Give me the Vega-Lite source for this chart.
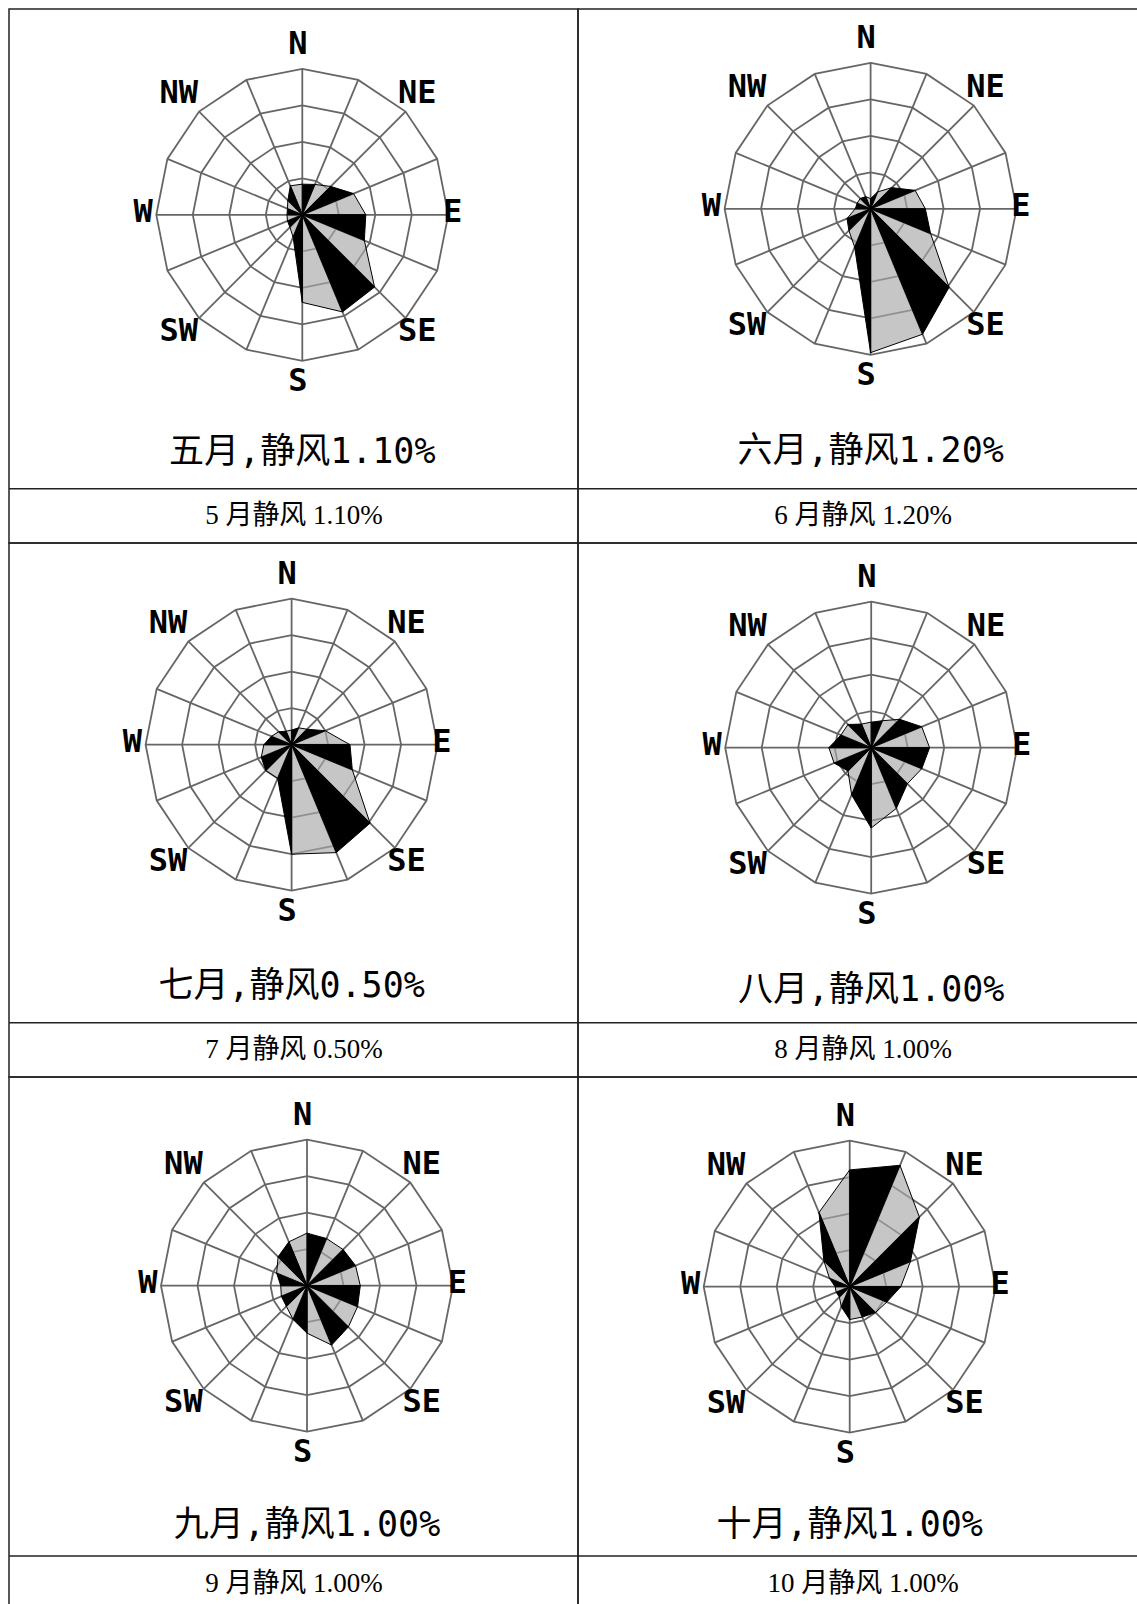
{
"$schema": "https://vega.github.io/schema/vega-lite/v6.json",
"background": "white",
"padding": {"left": 7, "top": 8, "right": 0, "bottom": 0},
"columns": 2,
"spacing": 0,
"bounds": "flush",
"resolve": {"scale": {"x": "independent", "y": "independent"}},
"config": {"view": {"stroke": "#222222", "strokeWidth": 1.5}},
"datasets": {
"rose": [
{"m":5,"d":0,"v":4.2},{"m":5,"d":1,"v":4.5},{"m":5,"d":2,"v":5.5},{"m":5,"d":3,"v":7.6},{"m":5,"d":4,"v":8.7},{"m":5,"d":5,"v":9.2},{"m":5,"d":6,"v":14.0},{"m":5,"d":7,"v":14.4},{"m":5,"d":8,"v":12.0},{"m":5,"d":9,"v":3.3},{"m":5,"d":10,"v":2.4},{"m":5,"d":11,"v":2.2},{"m":5,"d":12,"v":2.1},{"m":5,"d":13,"v":2.2},{"m":5,"d":14,"v":2.8},{"m":5,"d":15,"v":4.3},
{"m":6,"d":0,"v":1.4},{"m":6,"d":1,"v":2.5},{"m":6,"d":2,"v":4.1},{"m":6,"d":3,"v":6.6},{"m":6,"d":4,"v":7.5},{"m":6,"d":5,"v":8.9},{"m":6,"d":6,"v":15.2},{"m":6,"d":7,"v":18.6},{"m":6,"d":8,"v":19.7},{"m":6,"d":9,"v":5.7},{"m":6,"d":10,"v":4.2},{"m":6,"d":11,"v":3.5},{"m":6,"d":12,"v":2.1},{"m":6,"d":13,"v":2.0},{"m":6,"d":14,"v":2.0},{"m":6,"d":15,"v":1.8},
{"m":7,"d":0,"v":2.0},{"m":7,"d":1,"v":2.5},{"m":7,"d":2,"v":3.0},{"m":7,"d":3,"v":5.0},{"m":7,"d":4,"v":8.0},{"m":7,"d":5,"v":9.0},{"m":7,"d":6,"v":15.2},{"m":7,"d":7,"v":16.0},{"m":7,"d":8,"v":15.0},{"m":7,"d":9,"v":5.0},{"m":7,"d":10,"v":5.0},{"m":7,"d":11,"v":4.5},{"m":7,"d":12,"v":3.8},{"m":7,"d":13,"v":3.0},{"m":7,"d":14,"v":2.5},{"m":7,"d":15,"v":2.0},
{"m":8,"d":0,"v":3.5},{"m":8,"d":1,"v":4.0},{"m":8,"d":2,"v":5.5},{"m":8,"d":3,"v":7.5},{"m":8,"d":4,"v":8.0},{"m":8,"d":5,"v":7.5},{"m":8,"d":6,"v":7.0},{"m":8,"d":7,"v":9.0},{"m":8,"d":8,"v":11.0},{"m":8,"d":9,"v":7.0},{"m":8,"d":10,"v":4.5},{"m":8,"d":11,"v":5.5},{"m":8,"d":12,"v":5.8},{"m":8,"d":13,"v":4.5},{"m":8,"d":14,"v":4.5},{"m":8,"d":15,"v":3.5},
{"m":9,"d":0,"v":7.2},{"m":9,"d":1,"v":7.0},{"m":9,"d":2,"v":7.0},{"m":9,"d":3,"v":7.2},{"m":9,"d":4,"v":7.3},{"m":9,"d":5,"v":7.5},{"m":9,"d":6,"v":8.0},{"m":9,"d":7,"v":8.8},{"m":9,"d":8,"v":6.5},{"m":9,"d":9,"v":5.0},{"m":9,"d":10,"v":4.0},{"m":9,"d":11,"v":3.8},{"m":9,"d":12,"v":3.6},{"m":9,"d":13,"v":4.5},{"m":9,"d":14,"v":5.6},{"m":9,"d":15,"v":6.5},
{"m":10,"d":0,"v":16.0},{"m":10,"d":1,"v":18.0},{"m":10,"d":2,"v":13.5},{"m":10,"d":3,"v":9.0},{"m":10,"d":4,"v":7.0},{"m":10,"d":5,"v":5.5},{"m":10,"d":6,"v":5.0},{"m":10,"d":7,"v":4.5},{"m":10,"d":8,"v":4.5},{"m":10,"d":9,"v":3.0},{"m":10,"d":10,"v":2.0},{"m":10,"d":11,"v":2.0},{"m":10,"d":12,"v":2.0},{"m":10,"d":13,"v":3.0},{"m":10,"d":14,"v":5.0},{"m":10,"d":15,"v":11.0}
],
"dirs": [
{"d":0,"g":[5,10,15,20]},{"d":1,"g":[5,10,15,20]},{"d":2,"g":[5,10,15,20]},{"d":3,"g":[5,10,15,20]},{"d":4,"g":[5,10,15,20]},{"d":5,"g":[5,10,15,20]},{"d":6,"g":[5,10,15,20]},{"d":7,"g":[5,10,15,20]},{"d":8,"g":[5,10,15,20]},{"d":9,"g":[5,10,15,20]},{"d":10,"g":[5,10,15,20]},{"d":11,"g":[5,10,15,20]},{"d":12,"g":[5,10,15,20]},{"d":13,"g":[5,10,15,20]},{"d":14,"g":[5,10,15,20]},{"d":15,"g":[5,10,15,20]}
],
"labs": [
{"d":0,"t":"N"},{"d":2,"t":"NE"},{"d":4,"t":"E"},{"d":6,"t":"SE"},{"d":8,"t":"S"},{"d":10,"t":"SW"},{"d":12,"t":"W"},{"d":14,"t":"NW"}
],
"months": [
{"m":5,"title":"五月,静风1.10%","cap":"5 月静风 1.10%"},
{"m":6,"title":"六月,静风1.20%","cap":"6 月静风 1.20%"},
{"m":7,"title":"七月,静风0.50%","cap":"7 月静风 0.50%"},
{"m":8,"title":"八月,静风1.00%","cap":"8 月静风 1.00%"},
{"m":9,"title":"九月,静风1.00%","cap":"9 月静风 1.00%"},
{"m":10,"title":"十月,静风1.00%","cap":"10 月静风 1.00%"}
]
},
"concat": [
{
"width": 569, "height": 534,
"layer": [
{"data": {"name": "dirs"}, "transform": [{"flatten": ["g"]}, {"calculate": "datum.g * sin(datum.d * PI / 8)", "as": "x"}, {"calculate": "datum.g * cos(datum.d * PI / 8)", "as": "y"}],
 "mark": {"type": "line", "interpolate": "linear-closed", "stroke": "#666666", "strokeWidth": 1.8},
 "encoding": {"x": {"field": "x", "type": "quantitative", "scale": {"domain": [-40.178, 37.767], "nice": false, "zero": false}, "axis": null}, "y": {"field": "y", "type": "quantitative", "scale": {"domain": [-44.959, 28.192], "nice": false, "zero": false}, "axis": null}, "detail": {"field": "g", "type": "nominal"}, "order": {"field": "d", "type": "quantitative"}}},
{"data": {"name": "dirs"}, "transform": [{"calculate": "20 * sin(datum.d * PI / 8)", "as": "x"}, {"calculate": "20 * cos(datum.d * PI / 8)", "as": "y"}],
 "mark": {"type": "rule", "stroke": "#666666", "strokeWidth": 1.8},
 "encoding": {"x": {"field": "x", "type": "quantitative", "scale": {"domain": [-40.178, 37.767], "nice": false, "zero": false}, "axis": null}, "y": {"field": "y", "type": "quantitative", "scale": {"domain": [-44.959, 28.192], "nice": false, "zero": false}, "axis": null}, "x2": {"datum": 0}, "y2": {"datum": 0}}},
{"data": {"name": "rose"}, "transform": [{"filter": "datum.m == 5"}, {"calculate": "datum.d", "as": "s0"}, {"calculate": "datum.d", "as": "s1"}, {"calculate": "(datum.d + 15) % 16", "as": "s2"}, {"fold": ["s0", "s1", "s2"], "as": ["k", "s"]}, {"calculate": "datum.k == 's0' ? 0 : datum.v", "as": "r"}, {"calculate": "datum.r * sin(datum.d * PI / 8)", "as": "x"}, {"calculate": "datum.r * cos(datum.d * PI / 8)", "as": "y"}, {"calculate": "datum.s % 2", "as": "c"}],
 "mark": {"type": "line", "interpolate": "linear-closed", "stroke": "#000000", "strokeWidth": 1},
 "encoding": {"x": {"field": "x", "type": "quantitative", "scale": {"domain": [-40.178, 37.767], "nice": false, "zero": false}, "axis": null}, "y": {"field": "y", "type": "quantitative", "scale": {"domain": [-44.959, 28.192], "nice": false, "zero": false}, "axis": null}, "detail": {"field": "s", "type": "nominal"}, "order": {"field": "k"}, "fill": {"field": "c", "type": "nominal", "scale": {"domain": [0, 1], "range": ["#000000", "#a8a8a8"]}, "legend": null}, "fillOpacity": {"field": "c", "type": "ordinal", "scale": {"domain": [0, 1], "range": [1, 0.65]}, "legend": null}}},
{"data": {"name": "labs"}, "transform": [{"calculate": "datum.d % 8 == 4 ? 21.2 : 23.1", "as": "R"}, {"calculate": "datum.R * sin(datum.d * PI / 8) - 0.6", "as": "x"}, {"calculate": "datum.R * cos(datum.d * PI / 8) + 0.35", "as": "y"}],
 "mark": {"type": "text", "font": "DejaVu Sans Mono", "fontWeight": "bold", "fontSize": 32, "baseline": "middle", "align": "center"},
 "encoding": {"x": {"field": "x", "type": "quantitative", "scale": {"domain": [-40.178, 37.767], "nice": false, "zero": false}, "axis": null}, "y": {"field": "y", "type": "quantitative", "scale": {"domain": [-44.959, 28.192], "nice": false, "zero": false}, "axis": null}, "text": {"field": "t"}}},
{"data": {"name": "months"}, "transform": [{"filter": "datum.m == 5"}],
 "mark": {"type": "text", "font": "DejaVu Sans Mono, Noto Sans CJK SC", "fontSize": 35, "baseline": "middle", "align": "center"},
 "encoding": {"x": {"datum": 0, "type": "quantitative", "scale": {"domain": [-40.178, 37.767], "nice": false, "zero": false}, "axis": null}, "y": {"datum": -32.493, "type": "quantitative", "scale": {"domain": [-44.959, 28.192], "nice": false, "zero": false}, "axis": null}, "text": {"field": "title"}}},
{"data": {"name": "months"}, "transform": [{"filter": "datum.m == 5"}],
 "mark": {"type": "text", "font": "Liberation Serif, Noto Sans CJK SC", "fontSize": 27, "baseline": "middle", "align": "center"},
 "encoding": {"x": {"datum": -1.137, "type": "quantitative", "scale": {"domain": [-40.178, 37.767], "nice": false, "zero": false}, "axis": null}, "y": {"datum": -41.233, "type": "quantitative", "scale": {"domain": [-44.959, 28.192], "nice": false, "zero": false}, "axis": null}, "text": {"field": "cap"}}},
{"data": {"name": "months"}, "transform": [{"filter": "datum.m == 5"}],
 "mark": {"type": "rule", "stroke": "#222222", "strokeWidth": 1.5},
 "encoding": {"y": {"datum": -37.534, "type": "quantitative", "scale": {"domain": [-44.959, 28.192], "nice": false, "zero": false}, "axis": null}}}
]
},
{
"width": 561, "height": 534,
"layer": [
{"data": {"name": "dirs"}, "transform": [{"flatten": ["g"]}, {"calculate": "datum.g * sin(datum.d * PI / 8)", "as": "x"}, {"calculate": "datum.g * cos(datum.d * PI / 8)", "as": "y"}],
 "mark": {"type": "line", "interpolate": "linear-closed", "stroke": "#666666", "strokeWidth": 1.8},
 "encoding": {"x": {"field": "x", "type": "quantitative", "scale": {"domain": [-40.082, 36.767], "nice": false, "zero": false}, "axis": null}, "y": {"field": "y", "type": "quantitative", "scale": {"domain": [-45.781, 27.370], "nice": false, "zero": false}, "axis": null}, "detail": {"field": "g", "type": "nominal"}, "order": {"field": "d", "type": "quantitative"}}},
{"data": {"name": "dirs"}, "transform": [{"calculate": "20 * sin(datum.d * PI / 8)", "as": "x"}, {"calculate": "20 * cos(datum.d * PI / 8)", "as": "y"}],
 "mark": {"type": "rule", "stroke": "#666666", "strokeWidth": 1.8},
 "encoding": {"x": {"field": "x", "type": "quantitative", "scale": {"domain": [-40.082, 36.767], "nice": false, "zero": false}, "axis": null}, "y": {"field": "y", "type": "quantitative", "scale": {"domain": [-45.781, 27.370], "nice": false, "zero": false}, "axis": null}, "x2": {"datum": 0}, "y2": {"datum": 0}}},
{"data": {"name": "rose"}, "transform": [{"filter": "datum.m == 6"}, {"calculate": "datum.d", "as": "s0"}, {"calculate": "datum.d", "as": "s1"}, {"calculate": "(datum.d + 15) % 16", "as": "s2"}, {"fold": ["s0", "s1", "s2"], "as": ["k", "s"]}, {"calculate": "datum.k == 's0' ? 0 : datum.v", "as": "r"}, {"calculate": "datum.r * sin(datum.d * PI / 8)", "as": "x"}, {"calculate": "datum.r * cos(datum.d * PI / 8)", "as": "y"}, {"calculate": "datum.s % 2", "as": "c"}],
 "mark": {"type": "line", "interpolate": "linear-closed", "stroke": "#000000", "strokeWidth": 1},
 "encoding": {"x": {"field": "x", "type": "quantitative", "scale": {"domain": [-40.082, 36.767], "nice": false, "zero": false}, "axis": null}, "y": {"field": "y", "type": "quantitative", "scale": {"domain": [-45.781, 27.370], "nice": false, "zero": false}, "axis": null}, "detail": {"field": "s", "type": "nominal"}, "order": {"field": "k"}, "fill": {"field": "c", "type": "nominal", "scale": {"domain": [0, 1], "range": ["#000000", "#a8a8a8"]}, "legend": null}, "fillOpacity": {"field": "c", "type": "ordinal", "scale": {"domain": [0, 1], "range": [1, 0.65]}, "legend": null}}},
{"data": {"name": "labs"}, "transform": [{"calculate": "datum.d % 8 == 4 ? 21.2 : 23.1", "as": "R"}, {"calculate": "datum.R * sin(datum.d * PI / 8) - 0.6", "as": "x"}, {"calculate": "datum.R * cos(datum.d * PI / 8) + 0.35", "as": "y"}],
 "mark": {"type": "text", "font": "DejaVu Sans Mono", "fontWeight": "bold", "fontSize": 32, "baseline": "middle", "align": "center"},
 "encoding": {"x": {"field": "x", "type": "quantitative", "scale": {"domain": [-40.082, 36.767], "nice": false, "zero": false}, "axis": null}, "y": {"field": "y", "type": "quantitative", "scale": {"domain": [-45.781, 27.370], "nice": false, "zero": false}, "axis": null}, "text": {"field": "t"}}},
{"data": {"name": "months"}, "transform": [{"filter": "datum.m == 6"}],
 "mark": {"type": "text", "font": "DejaVu Sans Mono, Noto Sans CJK SC", "fontSize": 35, "baseline": "middle", "align": "center"},
 "encoding": {"x": {"datum": 0, "type": "quantitative", "scale": {"domain": [-40.082, 36.767], "nice": false, "zero": false}, "axis": null}, "y": {"datum": -33.110, "type": "quantitative", "scale": {"domain": [-45.781, 27.370], "nice": false, "zero": false}, "axis": null}, "text": {"field": "title"}}},
{"data": {"name": "months"}, "transform": [{"filter": "datum.m == 6"}],
 "mark": {"type": "text", "font": "Liberation Serif, Noto Sans CJK SC", "fontSize": 27, "baseline": "middle", "align": "center"},
 "encoding": {"x": {"datum": -1.041, "type": "quantitative", "scale": {"domain": [-40.082, 36.767], "nice": false, "zero": false}, "axis": null}, "y": {"datum": -42.055, "type": "quantitative", "scale": {"domain": [-45.781, 27.370], "nice": false, "zero": false}, "axis": null}, "text": {"field": "cap"}}},
{"data": {"name": "months"}, "transform": [{"filter": "datum.m == 6"}],
 "mark": {"type": "rule", "stroke": "#222222", "strokeWidth": 1.5},
 "encoding": {"y": {"datum": -38.356, "type": "quantitative", "scale": {"domain": [-45.781, 27.370], "nice": false, "zero": false}, "axis": null}}}
]
},
{
"width": 569, "height": 534,
"layer": [
{"data": {"name": "dirs"}, "transform": [{"flatten": ["g"]}, {"calculate": "datum.g * sin(datum.d * PI / 8)", "as": "x"}, {"calculate": "datum.g * cos(datum.d * PI / 8)", "as": "y"}],
 "mark": {"type": "line", "interpolate": "linear-closed", "stroke": "#666666", "strokeWidth": 1.8},
 "encoding": {"x": {"field": "x", "type": "quantitative", "scale": {"domain": [-38.712, 39.233], "nice": false, "zero": false}, "axis": null}, "y": {"field": "y", "type": "quantitative", "scale": {"domain": [-45.521, 27.630], "nice": false, "zero": false}, "axis": null}, "detail": {"field": "g", "type": "nominal"}, "order": {"field": "d", "type": "quantitative"}}},
{"data": {"name": "dirs"}, "transform": [{"calculate": "20 * sin(datum.d * PI / 8)", "as": "x"}, {"calculate": "20 * cos(datum.d * PI / 8)", "as": "y"}],
 "mark": {"type": "rule", "stroke": "#666666", "strokeWidth": 1.8},
 "encoding": {"x": {"field": "x", "type": "quantitative", "scale": {"domain": [-38.712, 39.233], "nice": false, "zero": false}, "axis": null}, "y": {"field": "y", "type": "quantitative", "scale": {"domain": [-45.521, 27.630], "nice": false, "zero": false}, "axis": null}, "x2": {"datum": 0}, "y2": {"datum": 0}}},
{"data": {"name": "rose"}, "transform": [{"filter": "datum.m == 7"}, {"calculate": "datum.d", "as": "s0"}, {"calculate": "datum.d", "as": "s1"}, {"calculate": "(datum.d + 15) % 16", "as": "s2"}, {"fold": ["s0", "s1", "s2"], "as": ["k", "s"]}, {"calculate": "datum.k == 's0' ? 0 : datum.v", "as": "r"}, {"calculate": "datum.r * sin(datum.d * PI / 8)", "as": "x"}, {"calculate": "datum.r * cos(datum.d * PI / 8)", "as": "y"}, {"calculate": "datum.s % 2", "as": "c"}],
 "mark": {"type": "line", "interpolate": "linear-closed", "stroke": "#000000", "strokeWidth": 1},
 "encoding": {"x": {"field": "x", "type": "quantitative", "scale": {"domain": [-38.712, 39.233], "nice": false, "zero": false}, "axis": null}, "y": {"field": "y", "type": "quantitative", "scale": {"domain": [-45.521, 27.630], "nice": false, "zero": false}, "axis": null}, "detail": {"field": "s", "type": "nominal"}, "order": {"field": "k"}, "fill": {"field": "c", "type": "nominal", "scale": {"domain": [0, 1], "range": ["#000000", "#a8a8a8"]}, "legend": null}, "fillOpacity": {"field": "c", "type": "ordinal", "scale": {"domain": [0, 1], "range": [1, 0.65]}, "legend": null}}},
{"data": {"name": "labs"}, "transform": [{"calculate": "datum.d % 8 == 4 ? 21.2 : 23.1", "as": "R"}, {"calculate": "datum.R * sin(datum.d * PI / 8) - 0.6", "as": "x"}, {"calculate": "datum.R * cos(datum.d * PI / 8) + 0.35", "as": "y"}],
 "mark": {"type": "text", "font": "DejaVu Sans Mono", "fontWeight": "bold", "fontSize": 32, "baseline": "middle", "align": "center"},
 "encoding": {"x": {"field": "x", "type": "quantitative", "scale": {"domain": [-38.712, 39.233], "nice": false, "zero": false}, "axis": null}, "y": {"field": "y", "type": "quantitative", "scale": {"domain": [-45.521, 27.630], "nice": false, "zero": false}, "axis": null}, "text": {"field": "t"}}},
{"data": {"name": "months"}, "transform": [{"filter": "datum.m == 7"}],
 "mark": {"type": "text", "font": "DejaVu Sans Mono, Noto Sans CJK SC", "fontSize": 35, "baseline": "middle", "align": "center"},
 "encoding": {"x": {"datum": 0, "type": "quantitative", "scale": {"domain": [-38.712, 39.233], "nice": false, "zero": false}, "axis": null}, "y": {"datum": -33.096, "type": "quantitative", "scale": {"domain": [-45.521, 27.630], "nice": false, "zero": false}, "axis": null}, "text": {"field": "title"}}},
{"data": {"name": "months"}, "transform": [{"filter": "datum.m == 7"}],
 "mark": {"type": "text", "font": "Liberation Serif, Noto Sans CJK SC", "fontSize": 27, "baseline": "middle", "align": "center"},
 "encoding": {"x": {"datum": 0.329, "type": "quantitative", "scale": {"domain": [-38.712, 39.233], "nice": false, "zero": false}, "axis": null}, "y": {"datum": -41.795, "type": "quantitative", "scale": {"domain": [-45.521, 27.630], "nice": false, "zero": false}, "axis": null}, "text": {"field": "cap"}}},
{"data": {"name": "months"}, "transform": [{"filter": "datum.m == 7"}],
 "mark": {"type": "rule", "stroke": "#222222", "strokeWidth": 1.5},
 "encoding": {"y": {"datum": -38.096, "type": "quantitative", "scale": {"domain": [-45.521, 27.630], "nice": false, "zero": false}, "axis": null}}}
]
},
{
"width": 561, "height": 534,
"layer": [
{"data": {"name": "dirs"}, "transform": [{"flatten": ["g"]}, {"calculate": "datum.g * sin(datum.d * PI / 8)", "as": "x"}, {"calculate": "datum.g * cos(datum.d * PI / 8)", "as": "y"}],
 "mark": {"type": "line", "interpolate": "linear-closed", "stroke": "#666666", "strokeWidth": 1.8},
 "encoding": {"x": {"field": "x", "type": "quantitative", "scale": {"domain": [-40.164, 36.685], "nice": false, "zero": false}, "axis": null}, "y": {"field": "y", "type": "quantitative", "scale": {"domain": [-45.110, 28.041], "nice": false, "zero": false}, "axis": null}, "detail": {"field": "g", "type": "nominal"}, "order": {"field": "d", "type": "quantitative"}}},
{"data": {"name": "dirs"}, "transform": [{"calculate": "20 * sin(datum.d * PI / 8)", "as": "x"}, {"calculate": "20 * cos(datum.d * PI / 8)", "as": "y"}],
 "mark": {"type": "rule", "stroke": "#666666", "strokeWidth": 1.8},
 "encoding": {"x": {"field": "x", "type": "quantitative", "scale": {"domain": [-40.164, 36.685], "nice": false, "zero": false}, "axis": null}, "y": {"field": "y", "type": "quantitative", "scale": {"domain": [-45.110, 28.041], "nice": false, "zero": false}, "axis": null}, "x2": {"datum": 0}, "y2": {"datum": 0}}},
{"data": {"name": "rose"}, "transform": [{"filter": "datum.m == 8"}, {"calculate": "datum.d", "as": "s0"}, {"calculate": "datum.d", "as": "s1"}, {"calculate": "(datum.d + 15) % 16", "as": "s2"}, {"fold": ["s0", "s1", "s2"], "as": ["k", "s"]}, {"calculate": "datum.k == 's0' ? 0 : datum.v", "as": "r"}, {"calculate": "datum.r * sin(datum.d * PI / 8)", "as": "x"}, {"calculate": "datum.r * cos(datum.d * PI / 8)", "as": "y"}, {"calculate": "datum.s % 2", "as": "c"}],
 "mark": {"type": "line", "interpolate": "linear-closed", "stroke": "#000000", "strokeWidth": 1},
 "encoding": {"x": {"field": "x", "type": "quantitative", "scale": {"domain": [-40.164, 36.685], "nice": false, "zero": false}, "axis": null}, "y": {"field": "y", "type": "quantitative", "scale": {"domain": [-45.110, 28.041], "nice": false, "zero": false}, "axis": null}, "detail": {"field": "s", "type": "nominal"}, "order": {"field": "k"}, "fill": {"field": "c", "type": "nominal", "scale": {"domain": [0, 1], "range": ["#000000", "#a8a8a8"]}, "legend": null}, "fillOpacity": {"field": "c", "type": "ordinal", "scale": {"domain": [0, 1], "range": [1, 0.65]}, "legend": null}}},
{"data": {"name": "labs"}, "transform": [{"calculate": "datum.d % 8 == 4 ? 21.2 : 23.1", "as": "R"}, {"calculate": "datum.R * sin(datum.d * PI / 8) - 0.6", "as": "x"}, {"calculate": "datum.R * cos(datum.d * PI / 8) + 0.35", "as": "y"}],
 "mark": {"type": "text", "font": "DejaVu Sans Mono", "fontWeight": "bold", "fontSize": 32, "baseline": "middle", "align": "center"},
 "encoding": {"x": {"field": "x", "type": "quantitative", "scale": {"domain": [-40.164, 36.685], "nice": false, "zero": false}, "axis": null}, "y": {"field": "y", "type": "quantitative", "scale": {"domain": [-45.110, 28.041], "nice": false, "zero": false}, "axis": null}, "text": {"field": "t"}}},
{"data": {"name": "months"}, "transform": [{"filter": "datum.m == 8"}],
 "mark": {"type": "text", "font": "DejaVu Sans Mono, Noto Sans CJK SC", "fontSize": 35, "baseline": "middle", "align": "center"},
 "encoding": {"x": {"datum": 0, "type": "quantitative", "scale": {"domain": [-40.164, 36.685], "nice": false, "zero": false}, "axis": null}, "y": {"datum": -33.192, "type": "quantitative", "scale": {"domain": [-45.110, 28.041], "nice": false, "zero": false}, "axis": null}, "text": {"field": "title"}}},
{"data": {"name": "months"}, "transform": [{"filter": "datum.m == 8"}],
 "mark": {"type": "text", "font": "Liberation Serif, Noto Sans CJK SC", "fontSize": 27, "baseline": "middle", "align": "center"},
 "encoding": {"x": {"datum": -1.123, "type": "quantitative", "scale": {"domain": [-40.164, 36.685], "nice": false, "zero": false}, "axis": null}, "y": {"datum": -41.384, "type": "quantitative", "scale": {"domain": [-45.110, 28.041], "nice": false, "zero": false}, "axis": null}, "text": {"field": "cap"}}},
{"data": {"name": "months"}, "transform": [{"filter": "datum.m == 8"}],
 "mark": {"type": "rule", "stroke": "#222222", "strokeWidth": 1.5},
 "encoding": {"y": {"datum": -37.685, "type": "quantitative", "scale": {"domain": [-45.110, 28.041], "nice": false, "zero": false}, "axis": null}}}
]
},
{
"width": 569, "height": 528,
"layer": [
{"data": {"name": "dirs"}, "transform": [{"flatten": ["g"]}, {"calculate": "datum.g * sin(datum.d * PI / 8)", "as": "x"}, {"calculate": "datum.g * cos(datum.d * PI / 8)", "as": "y"}],
 "mark": {"type": "line", "interpolate": "linear-closed", "stroke": "#666666", "strokeWidth": 1.8},
 "encoding": {"x": {"field": "x", "type": "quantitative", "scale": {"domain": [-40.822, 37.123], "nice": false, "zero": false}, "axis": null}, "y": {"field": "y", "type": "quantitative", "scale": {"domain": [-43.740, 28.589], "nice": false, "zero": false}, "axis": null}, "detail": {"field": "g", "type": "nominal"}, "order": {"field": "d", "type": "quantitative"}}},
{"data": {"name": "dirs"}, "transform": [{"calculate": "20 * sin(datum.d * PI / 8)", "as": "x"}, {"calculate": "20 * cos(datum.d * PI / 8)", "as": "y"}],
 "mark": {"type": "rule", "stroke": "#666666", "strokeWidth": 1.8},
 "encoding": {"x": {"field": "x", "type": "quantitative", "scale": {"domain": [-40.822, 37.123], "nice": false, "zero": false}, "axis": null}, "y": {"field": "y", "type": "quantitative", "scale": {"domain": [-43.740, 28.589], "nice": false, "zero": false}, "axis": null}, "x2": {"datum": 0}, "y2": {"datum": 0}}},
{"data": {"name": "rose"}, "transform": [{"filter": "datum.m == 9"}, {"calculate": "datum.d", "as": "s0"}, {"calculate": "datum.d", "as": "s1"}, {"calculate": "(datum.d + 15) % 16", "as": "s2"}, {"fold": ["s0", "s1", "s2"], "as": ["k", "s"]}, {"calculate": "datum.k == 's0' ? 0 : datum.v", "as": "r"}, {"calculate": "datum.r * sin(datum.d * PI / 8)", "as": "x"}, {"calculate": "datum.r * cos(datum.d * PI / 8)", "as": "y"}, {"calculate": "datum.s % 2", "as": "c"}],
 "mark": {"type": "line", "interpolate": "linear-closed", "stroke": "#000000", "strokeWidth": 1},
 "encoding": {"x": {"field": "x", "type": "quantitative", "scale": {"domain": [-40.822, 37.123], "nice": false, "zero": false}, "axis": null}, "y": {"field": "y", "type": "quantitative", "scale": {"domain": [-43.740, 28.589], "nice": false, "zero": false}, "axis": null}, "detail": {"field": "s", "type": "nominal"}, "order": {"field": "k"}, "fill": {"field": "c", "type": "nominal", "scale": {"domain": [0, 1], "range": ["#000000", "#a8a8a8"]}, "legend": null}, "fillOpacity": {"field": "c", "type": "ordinal", "scale": {"domain": [0, 1], "range": [1, 0.65]}, "legend": null}}},
{"data": {"name": "labs"}, "transform": [{"calculate": "datum.d % 8 == 4 ? 21.2 : 23.1", "as": "R"}, {"calculate": "datum.R * sin(datum.d * PI / 8) - 0.6", "as": "x"}, {"calculate": "datum.R * cos(datum.d * PI / 8) + 0.35", "as": "y"}],
 "mark": {"type": "text", "font": "DejaVu Sans Mono", "fontWeight": "bold", "fontSize": 32, "baseline": "middle", "align": "center"},
 "encoding": {"x": {"field": "x", "type": "quantitative", "scale": {"domain": [-40.822, 37.123], "nice": false, "zero": false}, "axis": null}, "y": {"field": "y", "type": "quantitative", "scale": {"domain": [-43.740, 28.589], "nice": false, "zero": false}, "axis": null}, "text": {"field": "t"}}},
{"data": {"name": "months"}, "transform": [{"filter": "datum.m == 9"}],
 "mark": {"type": "text", "font": "DejaVu Sans Mono, Noto Sans CJK SC", "fontSize": 35, "baseline": "middle", "align": "center"},
 "encoding": {"x": {"datum": 0, "type": "quantitative", "scale": {"domain": [-40.822, 37.123], "nice": false, "zero": false}, "axis": null}, "y": {"datum": -32.781, "type": "quantitative", "scale": {"domain": [-43.740, 28.589], "nice": false, "zero": false}, "axis": null}, "text": {"field": "title"}}},
{"data": {"name": "months"}, "transform": [{"filter": "datum.m == 9"}],
 "mark": {"type": "text", "font": "Liberation Serif, Noto Sans CJK SC", "fontSize": 27, "baseline": "middle", "align": "center"},
 "encoding": {"x": {"datum": -1.781, "type": "quantitative", "scale": {"domain": [-40.822, 37.123], "nice": false, "zero": false}, "axis": null}, "y": {"datum": -40.795, "type": "quantitative", "scale": {"domain": [-43.740, 28.589], "nice": false, "zero": false}, "axis": null}, "text": {"field": "cap"}}},
{"data": {"name": "months"}, "transform": [{"filter": "datum.m == 9"}],
 "mark": {"type": "rule", "stroke": "#222222", "strokeWidth": 1.5},
 "encoding": {"y": {"datum": -37.027, "type": "quantitative", "scale": {"domain": [-43.740, 28.589], "nice": false, "zero": false}, "axis": null}}}
]
},
{
"width": 561, "height": 528,
"layer": [
{"data": {"name": "dirs"}, "transform": [{"flatten": ["g"]}, {"calculate": "datum.g * sin(datum.d * PI / 8)", "as": "x"}, {"calculate": "datum.g * cos(datum.d * PI / 8)", "as": "y"}],
 "mark": {"type": "line", "interpolate": "linear-closed", "stroke": "#666666", "strokeWidth": 1.8},
 "encoding": {"x": {"field": "x", "type": "quantitative", "scale": {"domain": [-37.219, 39.630], "nice": false, "zero": false}, "axis": null}, "y": {"field": "y", "type": "quantitative", "scale": {"domain": [-43.603, 28.726], "nice": false, "zero": false}, "axis": null}, "detail": {"field": "g", "type": "nominal"}, "order": {"field": "d", "type": "quantitative"}}},
{"data": {"name": "dirs"}, "transform": [{"calculate": "20 * sin(datum.d * PI / 8)", "as": "x"}, {"calculate": "20 * cos(datum.d * PI / 8)", "as": "y"}],
 "mark": {"type": "rule", "stroke": "#666666", "strokeWidth": 1.8},
 "encoding": {"x": {"field": "x", "type": "quantitative", "scale": {"domain": [-37.219, 39.630], "nice": false, "zero": false}, "axis": null}, "y": {"field": "y", "type": "quantitative", "scale": {"domain": [-43.603, 28.726], "nice": false, "zero": false}, "axis": null}, "x2": {"datum": 0}, "y2": {"datum": 0}}},
{"data": {"name": "rose"}, "transform": [{"filter": "datum.m == 10"}, {"calculate": "datum.d", "as": "s0"}, {"calculate": "datum.d", "as": "s1"}, {"calculate": "(datum.d + 15) % 16", "as": "s2"}, {"fold": ["s0", "s1", "s2"], "as": ["k", "s"]}, {"calculate": "datum.k == 's0' ? 0 : datum.v", "as": "r"}, {"calculate": "datum.r * sin(datum.d * PI / 8)", "as": "x"}, {"calculate": "datum.r * cos(datum.d * PI / 8)", "as": "y"}, {"calculate": "datum.s % 2", "as": "c"}],
 "mark": {"type": "line", "interpolate": "linear-closed", "stroke": "#000000", "strokeWidth": 1},
 "encoding": {"x": {"field": "x", "type": "quantitative", "scale": {"domain": [-37.219, 39.630], "nice": false, "zero": false}, "axis": null}, "y": {"field": "y", "type": "quantitative", "scale": {"domain": [-43.603, 28.726], "nice": false, "zero": false}, "axis": null}, "detail": {"field": "s", "type": "nominal"}, "order": {"field": "k"}, "fill": {"field": "c", "type": "nominal", "scale": {"domain": [0, 1], "range": ["#000000", "#a8a8a8"]}, "legend": null}, "fillOpacity": {"field": "c", "type": "ordinal", "scale": {"domain": [0, 1], "range": [1, 0.65]}, "legend": null}}},
{"data": {"name": "labs"}, "transform": [{"calculate": "datum.d % 8 == 4 ? 21.2 : 23.1", "as": "R"}, {"calculate": "datum.R * sin(datum.d * PI / 8) - 0.6", "as": "x"}, {"calculate": "datum.R * cos(datum.d * PI / 8) + 0.35", "as": "y"}],
 "mark": {"type": "text", "font": "DejaVu Sans Mono", "fontWeight": "bold", "fontSize": 32, "baseline": "middle", "align": "center"},
 "encoding": {"x": {"field": "x", "type": "quantitative", "scale": {"domain": [-37.219, 39.630], "nice": false, "zero": false}, "axis": null}, "y": {"field": "y", "type": "quantitative", "scale": {"domain": [-43.603, 28.726], "nice": false, "zero": false}, "axis": null}, "text": {"field": "t"}}},
{"data": {"name": "months"}, "transform": [{"filter": "datum.m == 10"}],
 "mark": {"type": "text", "font": "DejaVu Sans Mono, Noto Sans CJK SC", "fontSize": 35, "baseline": "middle", "align": "center"},
 "encoding": {"x": {"datum": 0, "type": "quantitative", "scale": {"domain": [-37.219, 39.630], "nice": false, "zero": false}, "axis": null}, "y": {"datum": -32.644, "type": "quantitative", "scale": {"domain": [-43.603, 28.726], "nice": false, "zero": false}, "axis": null}, "text": {"field": "title"}}},
{"data": {"name": "months"}, "transform": [{"filter": "datum.m == 10"}],
 "mark": {"type": "text", "font": "Liberation Serif, Noto Sans CJK SC", "fontSize": 27, "baseline": "middle", "align": "center"},
 "encoding": {"x": {"datum": 1.822, "type": "quantitative", "scale": {"domain": [-37.219, 39.630], "nice": false, "zero": false}, "axis": null}, "y": {"datum": -40.658, "type": "quantitative", "scale": {"domain": [-43.603, 28.726], "nice": false, "zero": false}, "axis": null}, "text": {"field": "cap"}}},
{"data": {"name": "months"}, "transform": [{"filter": "datum.m == 10"}],
 "mark": {"type": "rule", "stroke": "#222222", "strokeWidth": 1.5},
 "encoding": {"y": {"datum": -36.890, "type": "quantitative", "scale": {"domain": [-43.603, 28.726], "nice": false, "zero": false}, "axis": null}}}
]
}
]
}
